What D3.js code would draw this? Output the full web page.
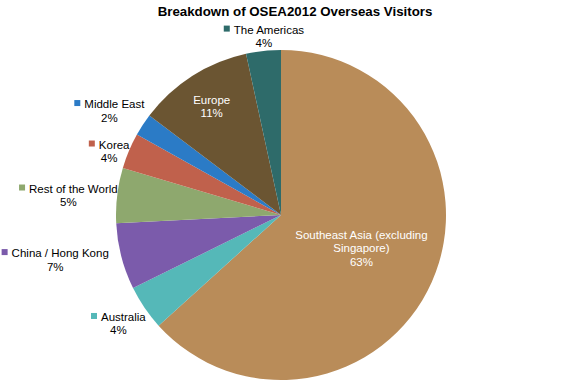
<!DOCTYPE html>
<html>
<head>
<meta charset="utf-8">
<script src="https://cdn.jsdelivr.net/npm/d3@7/dist/d3.min.js"></script>
<style>
  body { margin: 0; background: #fff; }
  text { font-family: "Liberation Sans", Arial, sans-serif; }
</style>
</head>
<body>
<div id="chart"></div>
<script>
// data (share of overseas visitors, %)
var regions = ["Southeast Asia (excluding Singapore)", "Australia", "China / Hong Kong",
  "Rest of the World", "Korea", "Middle East", "Europe", "The Americas"];
var shares = [63.3, 4.4, 6.5, 5.4, 3.5, 2.2, 11.3, 3.4];
var shareLabels = ["63%", "4%", "7%", "5%", "4%", "2%", "11%", "4%"];
var colors = ["#b98c59", "#55b8b8", "#7b5bab", "#8ea86e", "#c0614c", "#2b7bc6", "#6b5532", "#2e6b6a"];

var width = 575, height = 386;
var cx = 281, cy = 215, r = 165;

var svg = d3.select("#chart").append("svg")
  .attr("width", width)
  .attr("height", height);

svg.append("text")
  .attr("x", 295)
  .attr("y", 16)
  .attr("text-anchor", "middle")
  .style("font-size", "13.3px")
  .style("font-weight", "bold")
  .text("Breakdown of OSEA2012 Overseas Visitors");

var data = regions.map(function(d, i) {
  return { name: d, value: shares[i], label: shareLabels[i], color: colors[i] };
});

var pie = d3.pie().sort(null).value(function(d) { return d.value; });
var arcs = pie(data);

var arc = d3.arc().innerRadius(0).outerRadius(r);

var g = svg.append("g").attr("transform", "translate(" + cx + "," + cy + ")");

g.selectAll("path.slice")
  .data(arcs)
  .enter().append("path")
  .attr("class", "slice")
  .attr("d", arc)
  .attr("fill", function(d) { return d.data.color; });

// label placement: inside labels use a fraction of the radius, outside ones sit past the rim
// [inside?, radius, dx, dy] nudges to match the spreadsheet's layout
var labelLayout = {
  "Southeast Asia (excluding Singapore)": [true, 0.5 * r, 5, 0],
  "Europe": [true, 0.78 * r, 0, 0],
  "Australia": [false, r + 28, -3, 0],
  "China / Hong Kong": [false, r + 28, -39, -4],
  "Rest of the World": [false, r + 28, -21, 3],
  "Korea": [false, r + 28, 6, 11],
  "Middle East": [false, r + 28, -10, 1],
  "The Americas": [false, r + 28, 3.5, 13]
};

var lineH = 13.5;

arcs.forEach(function(d) {
  var lay = labelLayout[d.data.name];
  var la = d3.arc().innerRadius(lay[1]).outerRadius(lay[1]);
  var c = la.centroid(d);
  var x = c[0] + lay[2], y = c[1] + lay[3];
  var lg = g.append("g").attr("transform", "translate(" + x + "," + y + ")");

  if (lay[0]) {
    var lines = d.data.name == "Southeast Asia (excluding Singapore)"
      ? ["Southeast Asia (excluding", "Singapore)", d.data.label]
      : [d.data.name, d.data.label];
    var top = -(lines.length - 1) * lineH / 2 + 4;
    lines.forEach(function(t, i) {
      lg.append("text")
        .attr("x", 0)
        .attr("y", top + i * lineH)
        .attr("text-anchor", "middle")
        .attr("fill", "#fff")
        .style("font-size", "11.5px")
        .text(t);
    });
  } else {
    var name = lg.append("text")
      .attr("y", -2.5)
      .attr("text-anchor", "start")
      .attr("fill", "#000")
      .style("font-size", "11.5px")
      .text(d.data.name);
    var w = name.node().getComputedTextLength();
    var sq = 6, gap = 4;
    var total = sq + gap + w;
    name.attr("x", -total / 2 + sq + gap);
    lg.append("rect")
      .attr("x", -total / 2)
      .attr("y", -2.5 - 8)
      .attr("width", sq)
      .attr("height", sq)
      .attr("fill", d.data.color);
    lg.append("text")
      .attr("x", 0)
      .attr("y", -2.5 + lineH)
      .attr("text-anchor", "middle")
      .attr("fill", "#000")
      .style("font-size", "11.5px")
      .text(d.data.label);
  }
});
</script>
</body>
</html>
